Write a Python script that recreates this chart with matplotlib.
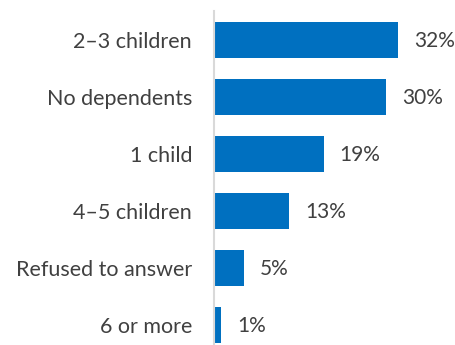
import matplotlib.pyplot as plt

categories = ["2–3 children", "No dependents", "1 child", "4–5 children",
              "Refused to answer", "6 or more"]
values = [32, 30, 19, 13, 5, 1]

W, H = 456, 345
fig = plt.figure(figsize=(W / 100, H / 100), dpi=100)
ax = fig.add_axes([214 / W, 0, (W - 214) / W, (H - 11.5) / H])

ypos = list(range(len(categories)))
ax.barh(ypos, values, height=0.63, color="#0070C0", left=0.2)
ax.set_ylim(5.35, -0.5)
ax.set_xlim(0, 42.4)

for y, v in zip(ypos, values):
    ax.annotate(f"{v}%", (v + 0.2, y), xytext=(16, -1), textcoords="offset pixels",
                va="center", ha="left", fontsize=15, color="#404040",
                family="Lato", annotation_clip=False)

ax.set_yticks(ypos)
ax.set_yticklabels(categories, fontsize=15.5, color="#404040", family="Lato")
ax.tick_params(axis="y", length=0, pad=15.8)
ax.set_xticks([])
for s in ["top", "right", "bottom"]:
    ax.spines[s].set_visible(False)
ax.spines["left"].set_color("#D9D9D9")
ax.spines["left"].set_linewidth(1.5)

fig.savefig("out.png", dpi=100)
